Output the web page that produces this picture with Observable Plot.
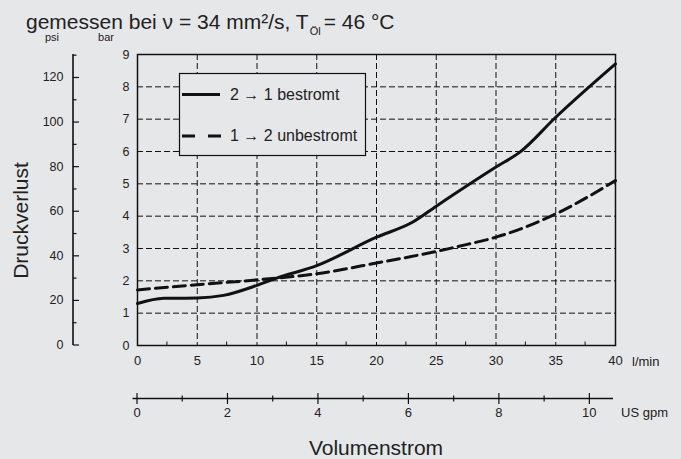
<!DOCTYPE html>
<html><head><meta charset="utf-8">
<script src="https://cdn.jsdelivr.net/npm/d3@7"></script>
<script src="https://cdn.jsdelivr.net/npm/@observablehq/plot@0.6"></script>
<style>html,body{margin:0;padding:0;background:#e6e7e9;}</style>
</head><body><div id="chart"></div>
<script>
// ---- data ----
const seriesNames = ["2 \u2192 1 bestromt", "1 \u2192 2 unbestromt"];
const solidFlow = [0, 2.2, 5, 7.2, 10, 11.7, 15, 20, 23, 25, 30, 32, 35, 40];
const solidBar  = [1.30, 1.46, 1.47, 1.55, 1.86, 2.09, 2.47, 3.35, 3.81, 4.31, 5.52, 5.98, 7.06, 8.71];
const dashFlow  = [0, 5, 10, 15, 20, 25, 27.5, 30, 35, 40];
const dashBar   = [1.72, 1.88, 2.03, 2.22, 2.55, 2.91, 3.12, 3.35, 4.07, 5.10];
const xTicks   = [0, 5, 10, 15, 20, 25, 30, 35, 40];
const xMinor   = [2.5, 7.5, 12.5, 17.5, 22.5, 27.5, 32.5, 37.5];
const barTicks = [0, 1, 2, 3, 4, 5, 6, 7, 8, 9];
const psiMajor = [0, 20, 40, 60, 80, 100, 120];
const psiMinor = [10, 30, 50, 70, 90, 110, 130];
const gpmMajor = [0, 2, 4, 6, 8, 10];
const gpmMinor = [1, 3, 5, 7, 9];
const titleMain = "gemessen bei \u03bd = 34 mm\u00b2/s, T";
const titleSub = "\u00d6l";
const titleEnd = "= 46 \u00b0C";
const yTitle = "Druckverlust";
const xTitle = "Volumenstrom";
const xUnit = "l/min";
const gpmUnit = "US gpm";
const PSI_PER_BAR = 14.5038;
const LMIN_PER_GPM = 3.78541;

const solid = solidFlow.map((x, i) => ({x, y: solidBar[i]}));
const dashed = dashFlow.map((x, i) => ({x, y: dashBar[i]}));

const FONT = "Arial, 'Liberation Sans', sans-serif";
const INK = "#111";
const TXT = "#222";

const plot = Plot.plot({
  width: 681, height: 459,
  marginLeft: 137, marginRight: 66, marginTop: 54, marginBottom: 114,
  x: {domain: [0, 40]},
  y: {domain: [0, 9]},
  style: {background: "#e6e7e9", fontFamily: FONT, fontSize: "12.5px", color: TXT},
  marks: [
    Plot.gridX(xTicks.slice(1, -1), {stroke: INK, strokeOpacity: 1, strokeWidth: 1, strokeDasharray: "6,3"}),
    Plot.gridY(barTicks.slice(1, -1), {stroke: INK, strokeOpacity: 1, strokeWidth: 1, strokeDasharray: "6,3"}),
    Plot.line(solid, {x: "x", y: "y", stroke: INK, strokeWidth: 3, curve: "monotone-x"}),
    Plot.line(dashed, {x: "x", y: "y", stroke: INK, strokeWidth: 3, curve: "monotone-x", strokeDasharray: "12,6"}),
    Plot.frame({stroke: INK, strokeWidth: 1.5}),
    Plot.axisX(xTicks, {anchor: "bottom", tickSize: 0, tickPadding: 10, label: null, fill: TXT, fontSize: 13}),
    Plot.axisY(barTicks, {anchor: "left", tickSize: 0, tickPadding: 8, label: null, fill: TXT})
  ]
});
document.getElementById("chart").appendChild(plot);

const xs = v => plot.scale("x").apply(v);
const ys = v => plot.scale("y").apply(v);
const svg = d3.select(plot);
const g = svg.append("g").attr("font-family", FONT).attr("fill", TXT).attr("text-anchor", "start");

// minor ticks on bottom frame
g.selectAll(".xminor").data(xMinor).join("line")
  .attr("x1", d => xs(d)).attr("x2", d => xs(d))
  .attr("y1", ys(0)).attr("y2", ys(0) - 3.5)
  .attr("stroke", INK).attr("stroke-width", 1);

// psi axis
const psiX = xs(0) - 64;
g.append("line").attr("x1", psiX).attr("x2", psiX).attr("y1", ys(0)).attr("y2", ys(9))
  .attr("stroke", INK).attr("stroke-width", 1.6);
g.selectAll(".psimaj").data(psiMajor).join("line")
  .attr("x1", psiX).attr("x2", psiX + 6)
  .attr("y1", d => ys(d / PSI_PER_BAR)).attr("y2", d => ys(d / PSI_PER_BAR))
  .attr("stroke", INK).attr("stroke-width", 1.2);
g.selectAll(".psimin").data(psiMinor).join("line")
  .attr("x1", psiX).attr("x2", psiX + 3.5)
  .attr("y1", d => ys(d / PSI_PER_BAR)).attr("y2", d => ys(d / PSI_PER_BAR))
  .attr("stroke", INK).attr("stroke-width", 1.2);
g.selectAll(".psilab").data(psiMajor).join("text")
  .attr("x", psiX - 9.5).attr("y", d => ys(d / PSI_PER_BAR)).attr("dy", "0.32em")
  .attr("text-anchor", "end").attr("font-size", 12.5).text(d => d);
g.append("text").attr("x", 52).attr("y", 41).attr("text-anchor", "middle").attr("font-size", 11).text("psi");
g.append("text").attr("x", 106).attr("y", 41).attr("text-anchor", "middle").attr("font-size", 11).text("bar");

// gpm axis
const gpmY = 398.5;
g.append("line").attr("x1", xs(0) - 4.5).attr("x2", xs(40) - 2).attr("y1", gpmY).attr("y2", gpmY)
  .attr("stroke", INK).attr("stroke-width", 1.6);
g.selectAll(".gmaj").data(gpmMajor).join("line")
  .attr("x1", d => xs(d * LMIN_PER_GPM)).attr("x2", d => xs(d * LMIN_PER_GPM))
  .attr("y1", gpmY - 5.5).attr("y2", gpmY + 5.5).attr("stroke", INK).attr("stroke-width", 1.2);
g.selectAll(".gmin").data(gpmMinor).join("line")
  .attr("x1", d => xs(d * LMIN_PER_GPM)).attr("x2", d => xs(d * LMIN_PER_GPM))
  .attr("y1", gpmY - 3).attr("y2", gpmY + 3).attr("stroke", INK).attr("stroke-width", 1.2);
g.selectAll(".glab").data(gpmMajor).join("text")
  .attr("x", d => xs(d * LMIN_PER_GPM)).attr("y", 416.5)
  .attr("text-anchor", "middle").attr("font-size", 13).text(d => d);
g.append("text").attr("x", 621).attr("y", 416.5).attr("font-size", 13).text(gpmUnit);
g.append("text").attr("x", 632).attr("y", 365.5).attr("font-size", 13).text(xUnit);

// titles
const t = g.append("text").attr("x", 26).attr("y", 28.5).attr("font-size", 21);
t.append("tspan").text(titleMain);
t.append("tspan").attr("font-size", 11).attr("dy", 6.5).attr("dx", 1).text(titleSub);
t.append("tspan").attr("dy", -6.5).attr("dx", 3).text(titleEnd);
g.append("text").attr("x", (xs(0) + xs(40)) / 2).attr("y", 455).attr("text-anchor", "middle")
  .attr("font-size", 21).text(xTitle);
g.append("text").attr("transform", "translate(28,220.5) rotate(-90)").attr("text-anchor", "middle")
  .attr("font-size", 21).text(yTitle);

// legend
const lg = g.append("g");
lg.append("rect").attr("x", 179.5).attr("y", 73.5).attr("width", 186).attr("height", 82)
  .attr("fill", "#e6e7e9").attr("stroke", INK).attr("stroke-width", 1.2);
lg.append("line").attr("x1", 182).attr("x2", 220).attr("y1", 94.5).attr("y2", 94.5)
  .attr("stroke", INK).attr("stroke-width", 3);
lg.append("line").attr("x1", 182).attr("x2", 221).attr("y1", 136).attr("y2", 136)
  .attr("stroke", INK).attr("stroke-width", 3).attr("stroke-dasharray", "13,13");
lg.append("text").attr("x", 230).attr("y", 99.5).attr("font-size", 16).text(seriesNames[0]);
lg.append("text").attr("x", 230).attr("y", 141).attr("font-size", 16).text(seriesNames[1]);
</script>
</body></html>
